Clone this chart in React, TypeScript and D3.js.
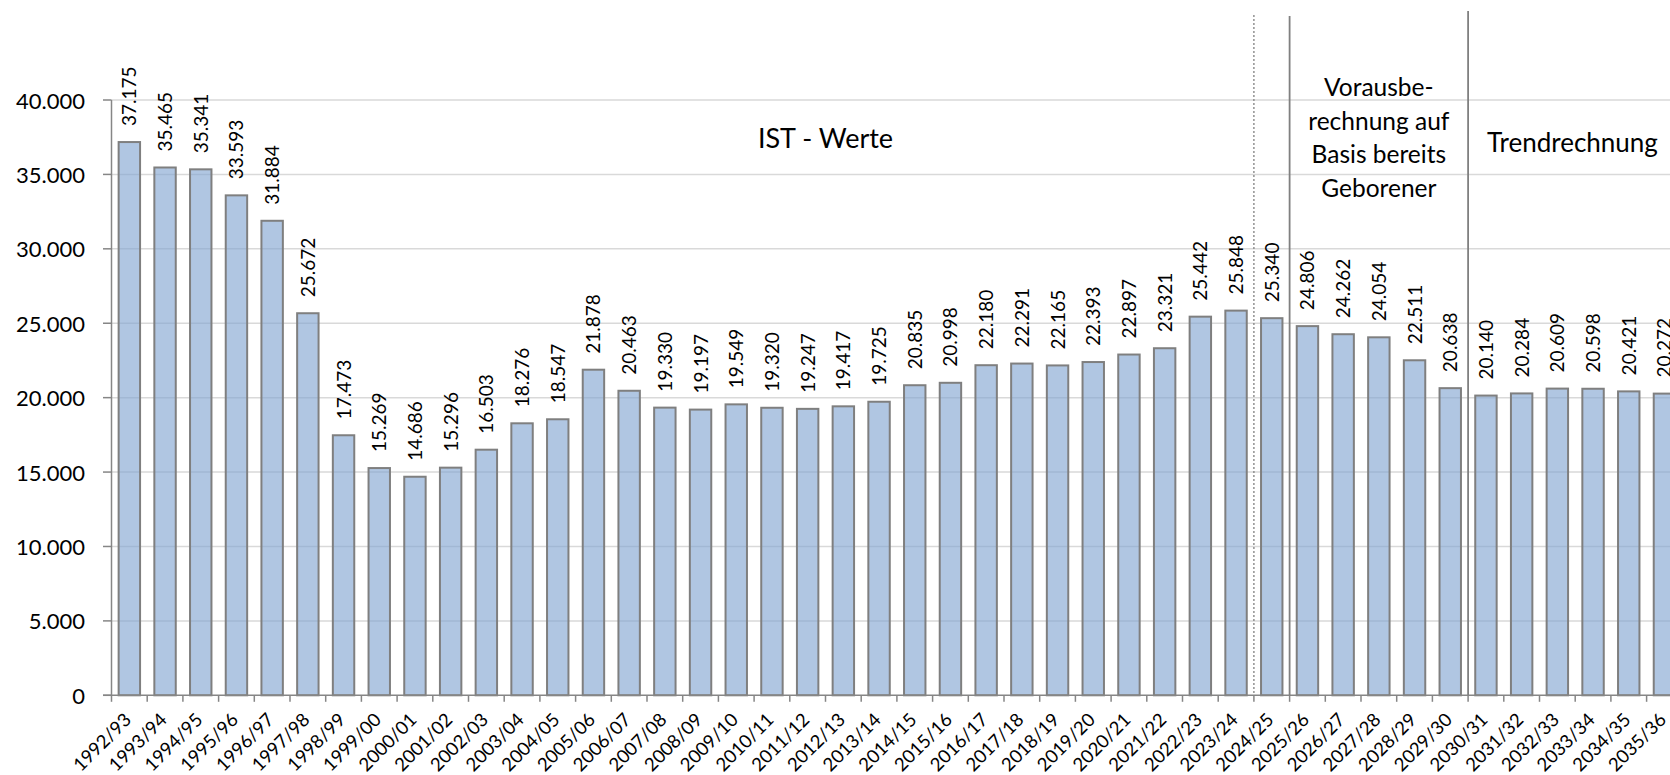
import React from "react";
import * as d3 from "d3";

// Schuljahre (Kategorien)
const years = [
  "1992/93", "1993/94", "1994/95", "1995/96", "1996/97", "1997/98", "1998/99", "1999/00",
  "2000/01", "2001/02", "2002/03", "2003/04", "2004/05", "2005/06", "2006/07", "2007/08",
  "2008/09", "2009/10", "2010/11", "2011/12", "2012/13", "2013/14", "2014/15", "2015/16",
  "2016/17", "2017/18", "2018/19", "2019/20", "2020/21", "2021/22", "2022/23", "2023/24",
  "2024/25", "2025/26", "2026/27", "2027/28", "2028/29", "2029/30", "2030/31", "2031/32",
  "2032/33", "2033/34", "2034/35", "2035/36",
];

const values = [
  37175, 35465, 35341, 33593, 31884, 25672, 17473, 15269,
  14686, 15296, 16503, 18276, 18547, 21878, 20463, 19330,
  19197, 19549, 19320, 19247, 19417, 19725, 20835, 20998,
  22180, 22291, 22165, 22393, 22897, 23321, 25442, 25848,
  25340, 24806, 24262, 24054, 22511, 20638, 20140, 20284,
  20609, 20598, 20421, 20272,
];

const yTicks = [0, 5000, 10000, 15000, 20000, 25000, 30000, 35000, 40000];

// Abschnitte: gepunktete Linie vor 2024/25, durchgezogen vor 2025/26 und 2030/31
const dottedBefore = "2024/25";
const solidBefore = ["2025/26", "2030/31"];
const vorausLines = ["Vorausbe-", "rechnung auf", "Basis bereits", "Geborener"];

const W = 1670;
const H = 775;
const FONT = "Lato, 'Open Sans', sans-serif";

const fmt = (v: number) => d3.format(",")(v).replace(/,/g, ".");

export default function App() {
  const x = d3
    .scaleBand<string>()
    .domain(years)
    .range([111.5, 111.5 + years.length * 35.7])
    .paddingInner(0.4)
    .paddingOuter(0.2);
  const y = d3.scaleLinear().domain([0, 40000]).range([695.3, 100]);
  const step = x.step();
  const edge = (c: string) => (x(c) as number) - (step * x.paddingInner()) / 2;
  const labelY = 721;

  return (
    <svg width={W} height={H} style={{ position: "absolute", left: 0, top: 0, background: "#fff" }}
      fontFamily={FONT}>
      {/* Gitterlinien */}
      {yTicks.filter((t) => t > 0).map((t) => (
        <line key={t} x1={111.5} x2={W} y1={y(t)} y2={y(t)} stroke="#d9d9d9" strokeWidth={1.5} />
      ))}

      {/* Balken */}
      {values.map((v, i) => (
        <rect key={years[i]} x={x(years[i])} y={y(v)} width={x.bandwidth()} height={y(0) - y(v)}
          fill="#7fa3d0" fillOpacity={0.62} stroke="#7f7f7f" strokeWidth={2} />
      ))}

      {/* Y-Achse */}
      <line x1={111.5} x2={111.5} y1={y(40000)} y2={y(0)} stroke="#868686" strokeWidth={1.5} />
      {yTicks.map((t) => (
        <g key={t}>
          <line x1={103} x2={111.5} y1={y(t)} y2={y(t)} stroke="#868686" strokeWidth={1.5} />
          <text x={85} y={y(t)} textAnchor="end" dominantBaseline="central" fontSize={22} fill="#000">
            {fmt(t)}
          </text>
        </g>
      ))}

      {/* X-Achse */}
      <line x1={103} x2={W} y1={y(0)} y2={y(0)} stroke="#868686" strokeWidth={1.5} />
      {years.map((c) => (
        <line key={c} x1={edge(c)} x2={edge(c)} y1={y(0)} y2={y(0) + 6.5} stroke="#868686" strokeWidth={1.5} />
      ))}
      {years.map((c) => {
        const cx = (x(c) as number) + x.bandwidth() / 2 + 3;
        return (
          <text key={c} x={cx} y={labelY} transform={`rotate(-45 ${cx} ${labelY})`} textAnchor="end"
            fontSize={18.5} fill="#000">
            {c}
          </text>
        );
      })}

      {/* Datenbeschriftungen */}
      {values.map((v, i) => {
        const lx = (x(years[i]) as number) + x.bandwidth() / 2 + 7;
        const ly = y(v) - 16;
        return (
          <text key={years[i]} x={lx} y={ly} transform={`rotate(-90 ${lx} ${ly})`} fontSize={19} fill="#000">
            {fmt(v)}
          </text>
        );
      })}

      {/* Trennlinien */}
      <line x1={edge(dottedBefore)} x2={edge(dottedBefore)} y1={15} y2={y(0)} stroke="#808080"
        strokeWidth={1.3} strokeDasharray="2,2" />
      {solidBefore.map((c, i) => (
        <line key={c} x1={edge(c)} x2={edge(c)} y1={i === 0 ? 16 : 11} y2={y(0)} stroke="#808080" strokeWidth={1.8} />
      ))}

      {/* Abschnittstitel */}
      <text x={825.5} y={148} textAnchor="middle" fontSize={27} fill="#000">IST - Werte</text>
      {vorausLines.map((l, i) => (
        <text key={l} x={(edge(solidBefore[0]) + edge(solidBefore[1])) / 2} y={96 + i * 33.7}
          textAnchor="middle" fontSize={24.5} fill="#000">
          {l}
        </text>
      ))}
      <text x={1487} y={152} fontSize={26} fill="#000">Trendrechnung</text>
    </svg>
  );
}
